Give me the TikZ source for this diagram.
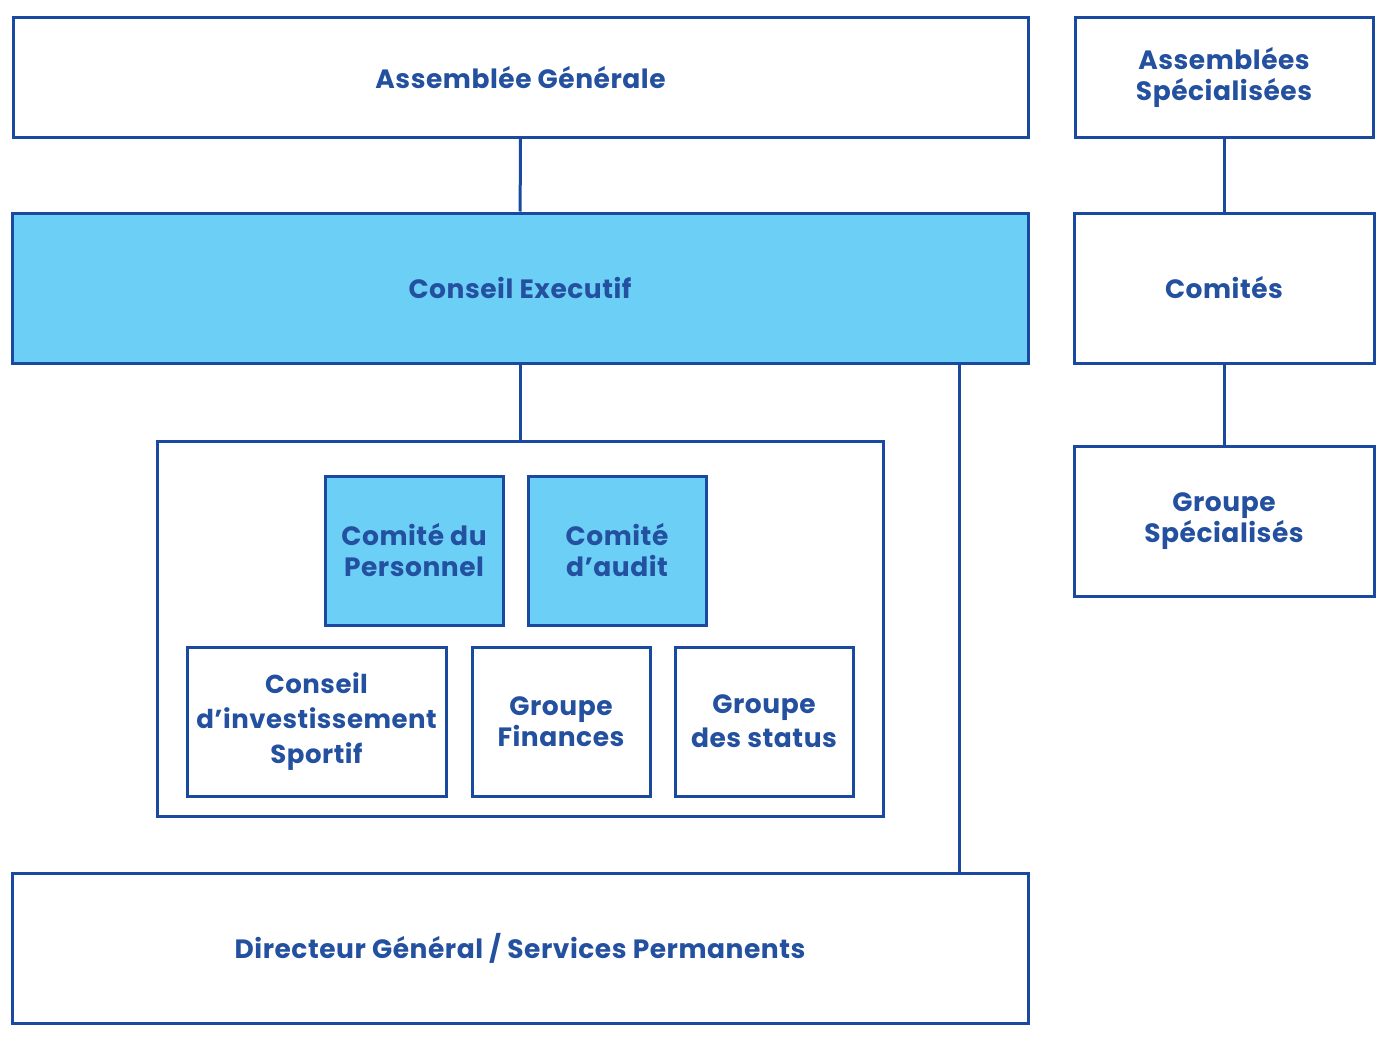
\documentclass[tikz,border=0pt]{standalone}
\usepackage{fontspec}
\setmainfont{Poppins}[LetterSpace=2]
\definecolor{cadre}{HTML}{1A4AA0}
\definecolor{texte}{HTML}{2450A0}
\definecolor{bleuclair}{HTML}{6CCFF6}

\begin{document}
\begin{tikzpicture}[x=1pt,y=-1pt]
\tikzset{boite/.style={draw=cadre, line width=3pt, text=texte, font=\fontsize{26.5}{31}\selectfont\bfseries, align=center, inner sep=0pt},
  pleine/.style={boite, fill=bleuclair},
  lien/.style={draw=cadre, line width=3pt}}
\useasboundingbox (0,0) rectangle (1395,1041);
\node[boite, minimum width=1015, minimum height=119] (AG) at (520.5,77.5) {Assemblée Générale};
\node[boite, minimum width=298, minimum height=119] (AS) at (1224,77.5) {Assemblées\\Spécialisées};
\node[pleine, minimum width=1016, minimum height=150] (CE) at (520,288) {Conseil Executif};
\node[boite, minimum width=300, minimum height=150] (COM) at (1224,288) {Comités};
\node[boite, minimum width=300, minimum height=150] (GS) at (1224,521) {Groupe\\Spécialisés};
\node[boite, minimum width=726, minimum height=375] (CONT) at (520,628.5) {};
\node[pleine, minimum width=178, minimum height=149] (CP) at (414,550.5) {Comité du\\Personnel};
\node[pleine, minimum width=178, minimum height=149] (CA) at (617,550.5) {Comité\\d’audit};
\node[boite, minimum width=259, minimum height=149, font=\fontsize{26}{35}\selectfont\bfseries] (CIS) at (316.5,721.5) {Conseil\\d’investissement\\Sportif};
\node[boite, minimum width=178, minimum height=149] (GF) at (561,721.5) {Groupe\\Finances};
\node[boite, minimum width=178, minimum height=149, font=\fontsize{26.5}{34}\selectfont\bfseries] (GDS) at (764,721.5) {Groupe\\des status};
\node[boite, minimum width=1016, minimum height=150] (DG) at (520,948) {Directeur Général / Services Permanents};
\coordinate (DEP) at (959,363);
\draw[lien] (AG) -- (CE);
\draw[lien] (CE) -- (CONT);
\draw[lien] (DEP) -- (DEP |- DG.north);
\draw[lien] (AS) -- (COM);
\draw[lien] (COM) -- (GS);
\end{tikzpicture}
\end{document}
